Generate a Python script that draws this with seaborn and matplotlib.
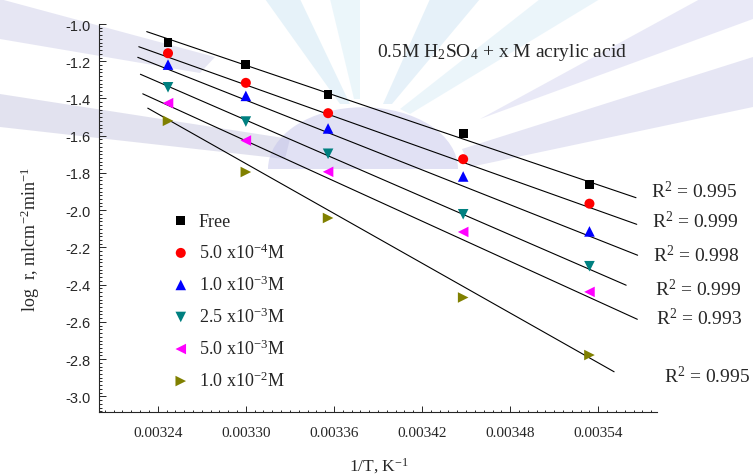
import numpy as np
import pandas as pd
import seaborn as sns
import matplotlib.pyplot as plt
from matplotlib.ticker import MultipleLocator, FormatStrFormatter
from matplotlib.patches import Polygon, Wedge
from matplotlib.transforms import Affine2D

# 1/T values for the five temperatures (K^-1)
inv_T = [0.003247, 0.003300, 0.003356, 0.003448, 0.003534]

# log r for each acrylic acid concentration
log_free = [-1.098, -1.218, -1.379, -1.588, -1.860]
log_5e4 = [-1.157, -1.316, -1.479, -1.726, -1.965]
log_1e3 = [-1.218, -1.386, -1.561, -1.819, -2.114]
log_25e3 = [-1.340, -1.524, -1.697, -2.022, -2.301]
log_5e3 = [-1.425, -1.626, -1.794, -2.117, -2.439]
log_1e2 = [-1.520, -1.795, -2.042, -2.469, -2.778]

labels = ['Free', '5.0 x10$^{-4}$M', '1.0 x10$^{-3}$M', '2.5 x10$^{-3}$M',
          '5.0 x10$^{-3}$M', '1.0 x10$^{-2}$M']
colors = ['#000000', '#ff0000', '#0000ff', '#008080', '#ff00ff', '#808000']
markers = ['s', 'o', '^', 'v', '<', '>']
marker_sizes = [40, 52, 58, 58, 58, 58]

# fitted lines as drawn in the figure (x and log r at both ends)
fit_x_start = [0.0032325, 0.0032271, 0.0032264, 0.0032282, 0.0032298, 0.0032332]
fit_x_end = [0.0035657, 0.0035662, 0.0035668, 0.0035590, 0.0035666, 0.0035508]
fit_y_start = [-1.041, -1.122, -1.179, -1.270, -1.375, -1.452]
fit_y_end = [-1.933, -2.076, -2.242, -2.403, -2.586, -2.868]

r_squared = ['0.995', '0.999', '0.998', '0.999', '0.993', '0.995']

series = [log_free, log_5e4, log_1e3, log_25e3, log_5e3, log_1e2]

sns.set_style('ticks')
plt.rcParams['font.family'] = ['Liberation Serif', 'DejaVu Serif']
plt.rcParams['mathtext.fontset'] = 'custom'
plt.rcParams['mathtext.rm'] = 'Liberation Serif'
plt.rcParams['mathtext.it'] = 'Liberation Serif:italic'
plt.rcParams['mathtext.bf'] = 'Liberation Serif:bold'
plt.rcParams['axes.unicode_minus'] = False

W, H = 753, 477
fig = plt.figure(figsize=(W / 100, H / 100), dpi=100)

# faint watermark behind the plot (pixel coords from the top-left)
px = Affine2D().scale(1, -1).translate(0, H)
wm_bands = [
    ([(0, 0), (0, 40), (200, 74), (215, 58)], '#c8c8e6'),
    ([(0, 95), (0, 128), (285, 160), (290, 140)], '#c0c0dc'),
    ([(753, 58), (753, 108), (470, 168), (462, 150)], '#c8c8e8'),
    ([(700, 0), (753, 0), (753, 20), (480, 120)], '#d0d0ee'),
    ([(265, 0), (300, 0), (350, 105), (340, 105)], '#c8e4f2'),
    ([(330, 0), (360, 0), (360, 100), (354, 100)], '#d4ecf6'),
    ([(430, 0), (480, 0), (392, 105), (383, 105)], '#c8e2f2'),
    ([(540, 0), (600, 0), (410, 115), (400, 110)], '#d4eaf6'),
]
for pts, c in wm_bands:
    fig.add_artist(Polygon(pts, closed=True, facecolor=c, edgecolor='none', alpha=0.45,
                           transform=px, zorder=-5))
fig.add_artist(Wedge((0, 0), 95, 180, 360, facecolor='#c4c4ea', edgecolor='none', alpha=0.5,
                     transform=Affine2D().scale(1, 0.65).translate(363, 170) + px,
                     zorder=-4))

ax = fig.add_axes([99 / W, 1 - 413 / H, (657 - 99) / W, (413 - 25) / H])
ax.set_facecolor('none')

# fitted lines
for i in range(len(series)):
    ax.plot([fit_x_start[i], fit_x_end[i]], [fit_y_start[i], fit_y_end[i]],
            color='black', lw=0.8, zorder=2, clip_on=False)

# data points
for i, vals in enumerate(series):
    d = pd.DataFrame({'inv_T': inv_T, 'log_r': vals})
    sns.scatterplot(data=d, x='inv_T', y='log_r', marker=markers[i], color=colors[i],
                    s=marker_sizes[i], edgecolor='none', linewidth=0, label=labels[i],
                    ax=ax, zorder=3, clip_on=False)

ax.set_xlim(0.0032, 0.00358)
ax.set_ylim(-3.084, -1.0)
ax.xaxis.set_minor_locator(MultipleLocator(0.000006))
ax.xaxis.set_major_formatter(FormatStrFormatter('%.5f'))
ax.set_xticks([0.00324, 0.00330, 0.00336, 0.00342, 0.00348, 0.00354])
ax.yaxis.set_major_locator(MultipleLocator(0.2))
ax.yaxis.set_minor_locator(MultipleLocator(0.02))
ax.yaxis.set_major_formatter(FormatStrFormatter('%.1f'))

ax.tick_params(axis='x', which='major', direction='in', length=4.3, width=0.7,
               pad=10, labelsize=11)
ax.tick_params(axis='x', which='minor', direction='in', length=1.8, width=0.7)
ax.tick_params(axis='y', which='major', direction='in', length=5, width=0.7,
               pad=6, labelsize=10.5)
ax.tick_params(axis='y', which='minor', direction='in', length=2.5, width=0.7)
for t in ax.get_yticklabels():
    t.set_fontfamily('Liberation Sans')

sns.despine(ax=ax)
ax.spines['left'].set_linewidth(0.8)
ax.spines['bottom'].set_linewidth(0.8)
ax.set_xlabel('')
ax.set_ylabel('')

# axis labels
fig.text(30 / W, 1 - 240 / H, 'log  r, mlcm$^{-2}$min$^{-1}$', rotation=90,
         ha='center', va='center', fontsize=13)
fig.text(379 / W, 1 - 471 / H, '1/T, K$^{-1}$', ha='center', va='baseline', fontsize=12.5)

# solution label
fig.text(377 / W, 1 - 57 / H, '0.5M H$_2$SO$_4$ + x M acrylic acid',
         ha='left', va='baseline', fontsize=14)

# R^2 labels next to the line ends
r2_x = [650.7, 651.7, 653.3, 655, 656, 664]
r2_y = [191.7, 221.7, 255.7, 289.3, 318.3, 376.7]
for i in range(len(r_squared)):
    fig.text(r2_x[i] / W, 1 - r2_y[i] / H, '$\\mathrm{R}^{2}$ = ' + r_squared[i],
             ha='left', va='center', fontsize=14)

# legend
ax.legend(loc='center left', bbox_to_anchor=(162.7 / W, 1 - 302.2 / H),
          bbox_transform=fig.transFigure, frameon=False, fontsize=13,
          handlelength=1.0, handletextpad=0.5, labelspacing=0.7, borderpad=0)

fig.savefig('out.png', dpi=100)
